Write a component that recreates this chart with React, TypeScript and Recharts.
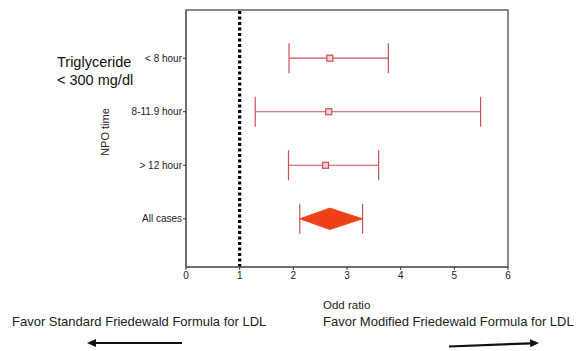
import * as React from "react";
import {
  ScatterChart,
  Scatter,
  XAxis,
  YAxis,
  ErrorBar,
  ReferenceLine,
  ReferenceArea,
} from "recharts";

const groups = ["< 8 hour", "8-11.9 hour", "> 12 hour", "All cases"];
const rowPos = [4, 3, 2, 1];
const oddRatio = [2.68, 2.66, 2.6, 2.68];
const ciLow = [1.92, 1.29, 1.91, 2.12];
const ciHigh = [3.77, 5.49, 3.59, 3.29];
const xTicks = [0, 1, 2, 3, 4, 5, 6];

const FONT = '"Liberation Sans", Arial, Helvetica, sans-serif';
const CI_RED = "#c9505a";
const DIAMOND_RED = "#f0401a";

type Row = { group: string; y: number; or: number; low: number; high: number; err: [number, number] };

const rows: Row[] = groups.map((group, i) => ({
  group,
  y: rowPos[i],
  or: oddRatio[i],
  low: ciLow[i],
  high: ciHigh[i],
  err: [oddRatio[i] - ciLow[i], ciHigh[i] - oddRatio[i]],
}));

const subgroupRows = rows.slice(0, 3);
const overall = rows[3];

function SquareMarker(props: any) {
  const { cx, cy } = props;
  if (cx == null || cy == null) return <g />;
  return (
    <rect
      x={cx - 3}
      y={cy - 3}
      width={6}
      height={6}
      fill="#f6d0d0"
      stroke={CI_RED}
      strokeWidth={1.2}
    />
  );
}

function DiamondShape(props: any) {
  const { x, y, width, height } = props;
  const midY = y + height / 2;
  const tipX = x + (width * (overall.or - overall.low)) / (overall.high - overall.low);
  const pts = `${x},${midY} ${tipX},${y} ${x + width},${midY} ${tipX},${y + height}`;
  return (
    <g>
      <line x1={x} x2={x} y1={midY - 15} y2={midY + 15} stroke={CI_RED} strokeWidth={1.2} />
      <line x1={x + width} x2={x + width} y1={midY - 15} y2={midY + 15} stroke={CI_RED} strokeWidth={1.2} />
      <polygon points={pts} fill={DIAMOND_RED} stroke="#e8502a" strokeWidth={1} />
    </g>
  );
}

export default function App() {
  return (
    <div style={{ position: "absolute", left: 0, top: 0, width: 582, height: 351, background: "#fff" }}>
      <ScatterChart
        width={582}
        height={351}
        margin={{ top: 10, right: 74, bottom: 54, left: 76 }}
      >
        <XAxis
          type="number"
          dataKey="or"
          domain={[0, 6]}
          ticks={xTicks}
          allowDataOverflow
          height={30}
          tickSize={3}
          tickMargin={2}
          axisLine={{ stroke: "#666", strokeWidth: 1.5 }}
          tickLine={{ stroke: "#333" }}
          tick={{ fontSize: 10, fill: "#222", fontFamily: FONT }}
        />
        <YAxis
          type="number"
          dataKey="y"
          domain={[0.1, 4.9]}
          ticks={rowPos}
          allowDataOverflow
          width={110}
          tickSize={3}
          tickMargin={1}
          tickFormatter={(v: number) => groups[rowPos.indexOf(v)] ?? ""}
          axisLine={{ stroke: "#666", strokeWidth: 1.5 }}
          tickLine={{ stroke: "#333" }}
          tick={{ fontSize: 10, fill: "#222", fontFamily: FONT }}
        />
        <ReferenceArea
          x1={0}
          x2={6}
          y1={0.1}
          y2={4.9}
          fill="none"
          fillOpacity={0}
          stroke="#666"
          strokeWidth={1.5}
        />
        <ReferenceLine
          x={1}
          stroke="#000"
          strokeWidth={3.2}
          strokeDasharray="3 2.5"
        />
        <ReferenceArea
          x1={overall.low}
          x2={overall.high}
          y1={overall.y - 0.2}
          y2={overall.y + 0.2}
          shape={DiamondShape}
        />
        <Scatter
          data={subgroupRows}
          shape={SquareMarker}
          isAnimationActive={false}
        >
          <ErrorBar
            dataKey="err"
            direction="x"
            width={15}
            stroke={CI_RED}
            strokeWidth={1.2}
            isAnimationActive={false}
          />
        </Scatter>
      </ScatterChart>
      <svg
        width={582}
        height={351}
        style={{ position: "absolute", left: 0, top: 0, pointerEvents: "none" }}
        fontFamily={FONT}
      >
        <text x={57} y={67} fontSize={14.5} fill="#111">Triglyceride</text>
        <text x={57} y={85} fontSize={14.5} fill="#111">{"< 300 mg/dl"}</text>
        <text
          x={105}
          y={132}
          fontSize={11}
          fill="#222"
          textAnchor="middle"
          dominantBaseline="central"
          transform="rotate(-90 105 132)"
        >
          NPO time
        </text>
        <text x={323} y={309} fontSize={11.5} fill="#222">Odd ratio</text>
        <text x={12} y={326} fontSize={13} fill="#222">Favor Standard Friedewald Formula for LDL</text>
        <text x={323} y={326} fontSize={13} fill="#222">Favor Modified Friedewald Formula for LDL</text>
        <line x1={182} y1={343} x2={94} y2={343} stroke="#111" strokeWidth={2.2} />
        <polygon points="87,343 96,339 96,347" fill="#111" />
        <line x1={449} y1={346.5} x2={531} y2={343.3} stroke="#111" strokeWidth={2.2} />
        <polygon points="539,343 530,339.3 530.3,347.3" fill="#111" />
      </svg>
    </div>
  );
}
